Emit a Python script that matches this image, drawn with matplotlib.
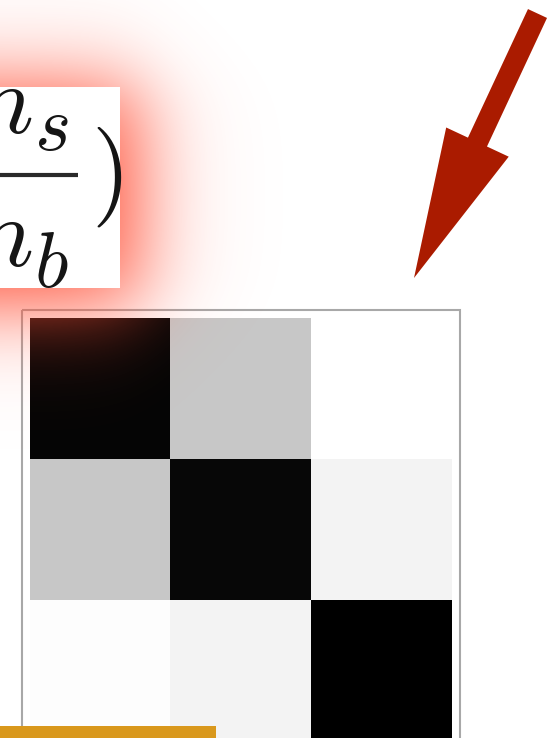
import matplotlib
matplotlib.use('Agg')
import matplotlib.pyplot as plt
from matplotlib.patches import Rectangle, FancyArrow
import numpy as np

plt.rcParams['mathtext.fontset'] = 'cm'

# normalised confusion matrix (rows = true class, cols = predicted)
conf = [
    [0.98, 0.22, 0.00],
    [0.22, 0.97, 0.05],
    [0.01, 0.05, 1.00],
]
# ratio n_s / n_b, written as base symbol + subscript
frac_parts = [('$n$', '$s$'), ('$n$', '$b$')]

W, H = 548, 738
fig = plt.figure(figsize=(W / 100, H / 100), dpi=100)
ax = fig.add_axes([0, 0, 1, 1])
ax.set_xlim(0, W)
ax.set_ylim(H, 0)
ax.axis('off')

# matrix panel
ax.add_patch(Rectangle((21.5, 310), 438, 470, fill=False, ec='#a8a8a8', lw=1.5, zorder=1))
ax.imshow(np.array(conf), cmap='gray_r', vmin=0, vmax=1, interpolation='nearest',
          extent=[30, 452, 741, 318], origin='upper', zorder=2)

# soft red glow behind the formula box
xx, yy = np.meshgrid(np.arange(W) + 0.5, np.arange(H) + 0.5)
sig = lambda v: 1.0 / (1.0 + np.exp(-v))
s = 26.0
glow = (sig((xx + 300) / s) - sig((xx - 140) / s)) * (sig((yy - 85) / s) - sig((yy - 305) / s))
rgba = np.zeros((H, W, 4))
rgba[..., 0] = 1.0
rgba[..., 1] = 80 / 255
rgba[..., 2] = 55 / 255
rgba[..., 3] = glow
ax.imshow(rgba, extent=[0, W, H, 0], interpolation='bilinear', zorder=3)
ax.set_xlim(0, W)
ax.set_ylim(H, 0)

# formula box
box = Rectangle((-20, 87), 140, 201, fc='white', ec='none', zorder=4)
ax.add_patch(box)
ink = '#151515'
for (base, sub), yb, ys in zip(frac_parts, [133, 266], [150, 287]):
    t = ax.text(32, yb, base, fontsize=72, va='baseline', ha='right', color=ink, zorder=5)
    t.set_clip_path(box)
    t = ax.text(34, ys, sub, fontsize=56, va='baseline', ha='left', color=ink, zorder=5)
    t.set_clip_path(box)
ax.plot([-10, 78], [175, 175], lw=3, color='#2a2a2a', solid_capstyle='butt', zorder=5)
p = ax.text(91, 202, r'$)$', fontsize=72, va='baseline', ha='left', color=ink, zorder=5)
p.set_clip_path(box)

# pointer arrow
ax.add_patch(FancyArrow(537.5, 13.5, -123.5, 264.5, width=21, head_width=69, head_length=150,
                        length_includes_head=True, color='#aa1b00', lw=0, zorder=6))

# accent bar along the bottom edge
ax.add_patch(Rectangle((0, 726), 216, 14, fc='#d9981c', ec='none', zorder=6))

fig.savefig('out.png', dpi=100)
